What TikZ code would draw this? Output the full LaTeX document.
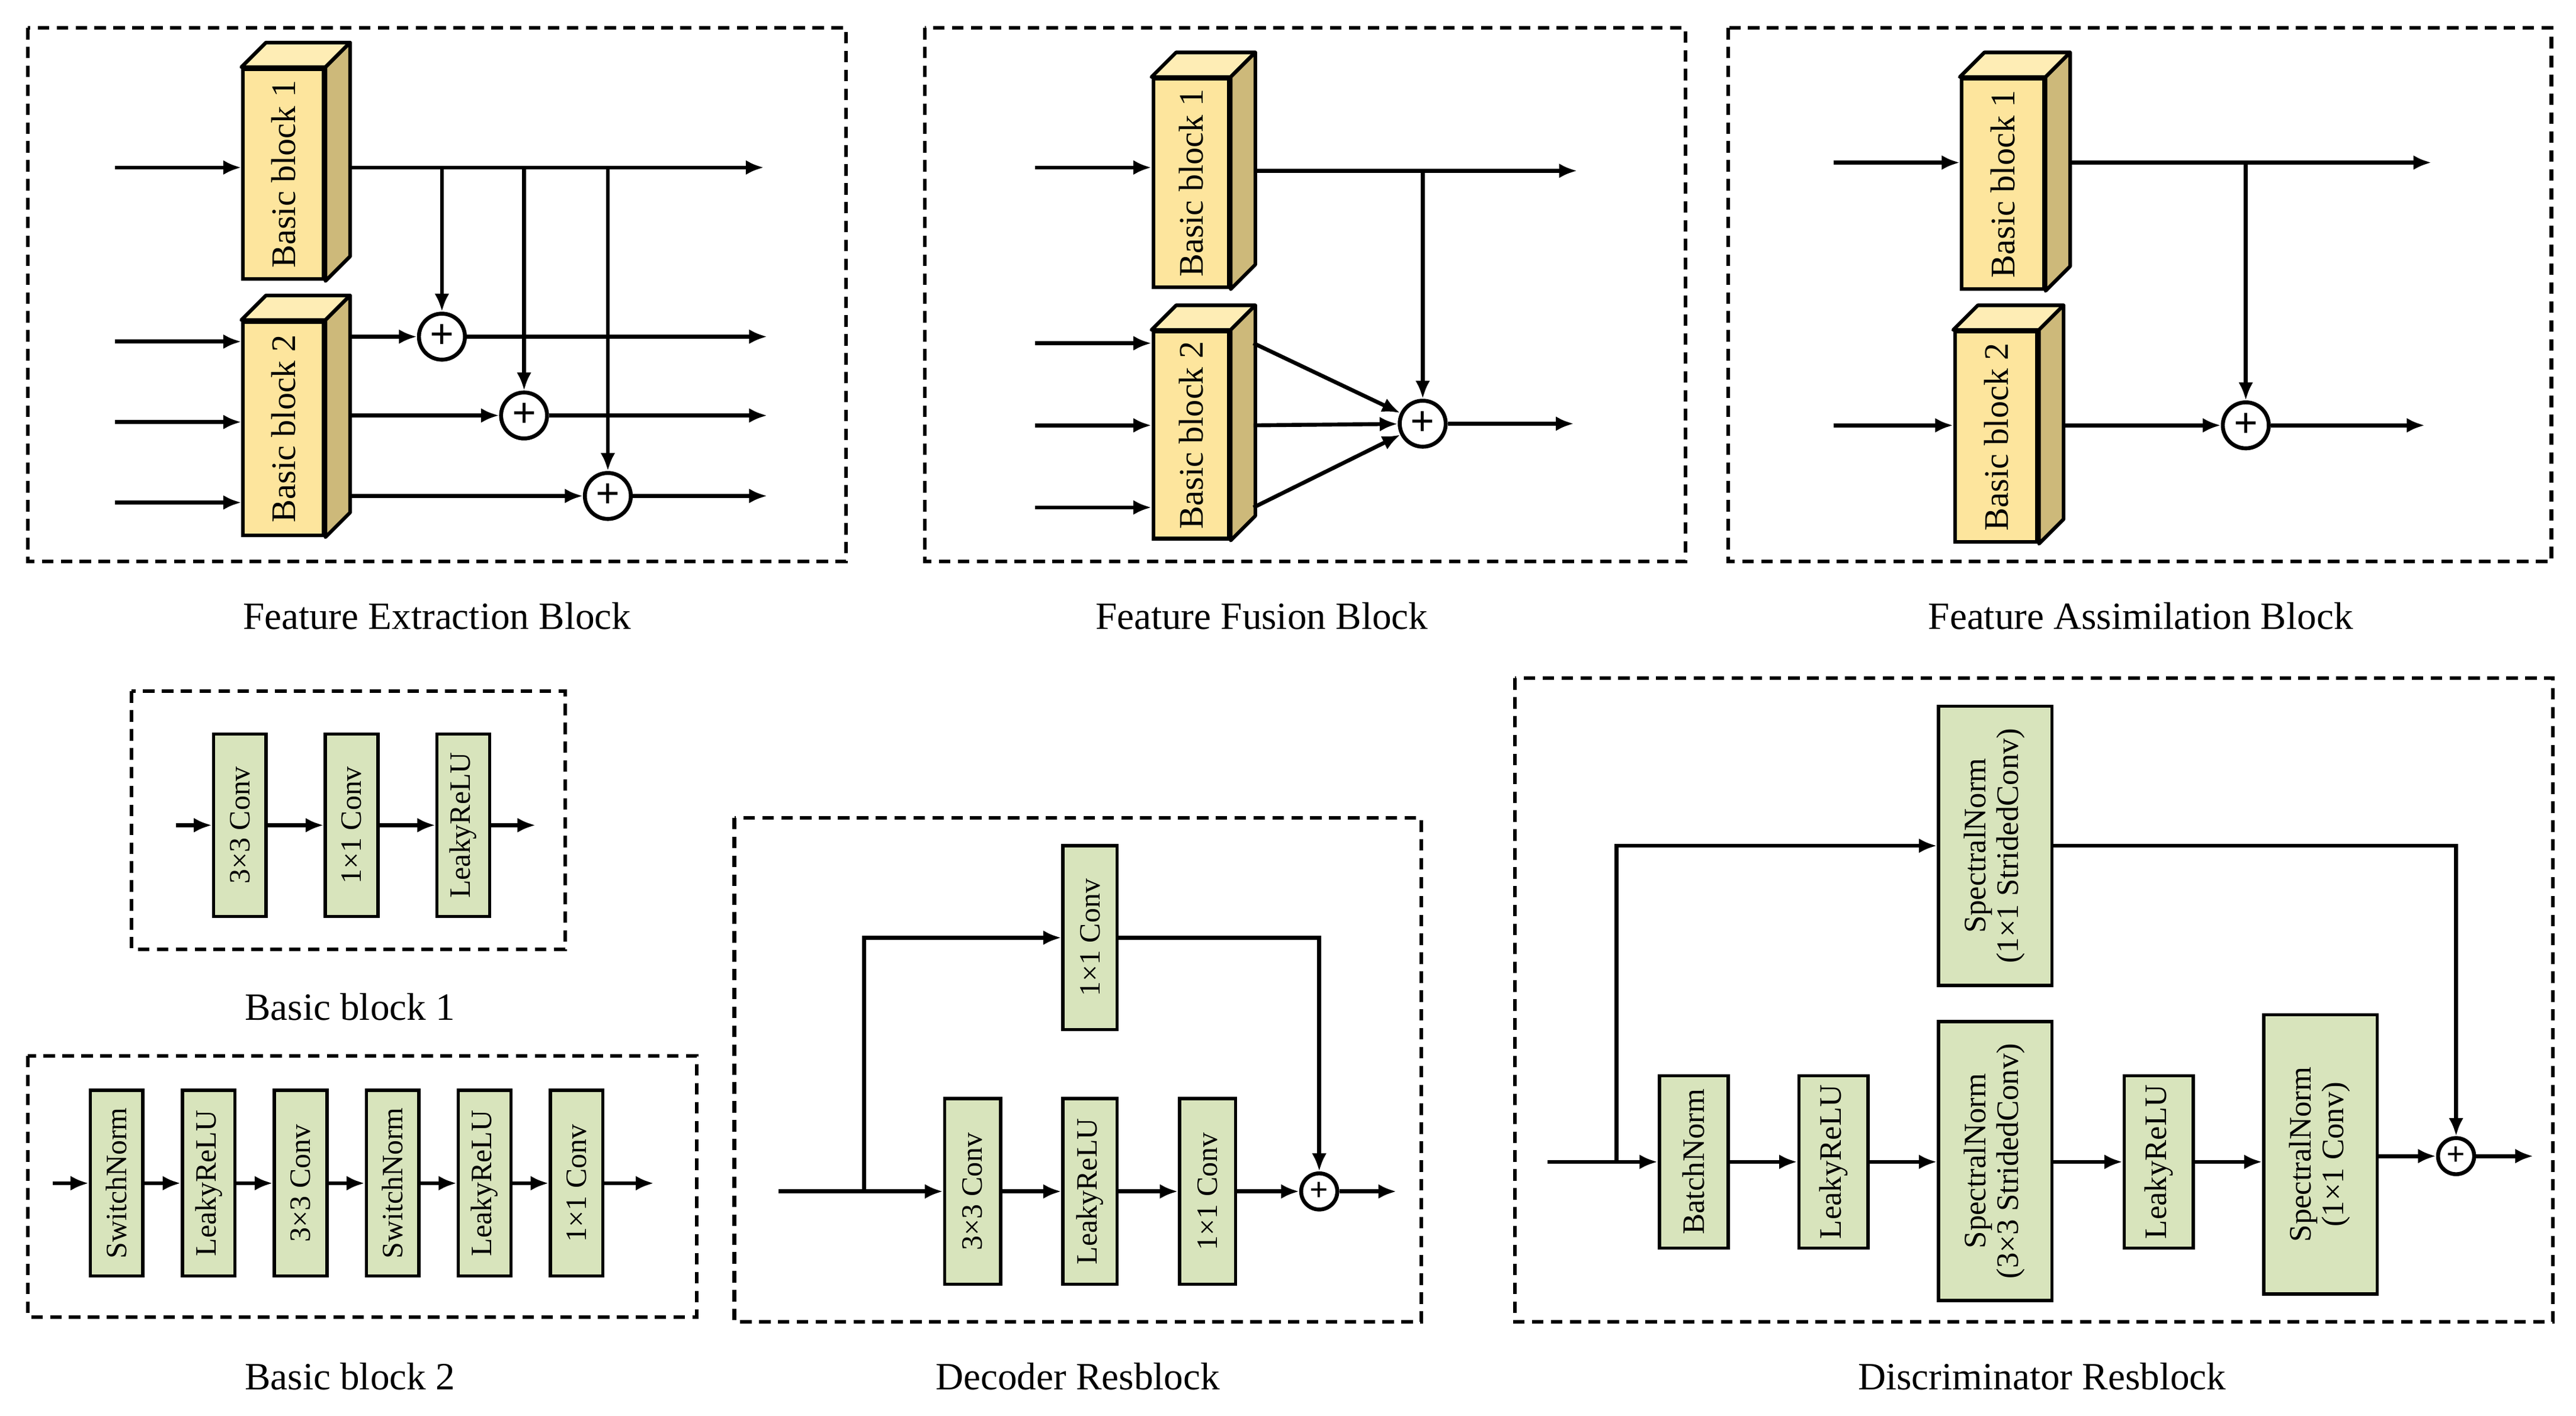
\documentclass[tikz,border=0pt]{standalone}
\usepackage{fontspec}
\setmainfont{Liberation Serif}
\usetikzlibrary{arrows.meta,calc}
\begin{document}
\begin{tikzpicture}[x=1pt,y=-1pt,
  line width=2.4pt,
  arr/.style={-{Latex[length=11pt,width=9pt]}},
  panel/.style={draw,dash pattern=on 7pt off 4.5pt,line width=2.2pt},
  captxt/.style={font=\fontsize{23.5}{26}\selectfont},
  bb/.style={draw,fill=bbfront,line width=2.2pt,inner sep=0pt,font=\fontsize{21}{23}\selectfont},
  gb/.style={draw,fill=gfill,line width=2pt,inner sep=0pt,font=\fontsize{18}{20}\selectfont},
  dgb/.style={gb,font=\fontsize{19}{20}\selectfont},
  sum/.style={draw,circle,fill=white,line width=2.4pt,minimum size=28pt,inner sep=0pt,font=\fontsize{26}{26}\selectfont\bfseries},
  ssum/.style={sum,minimum size=22pt,font=\fontsize{20}{20}\selectfont\bfseries}]
\definecolor{bbfront}{HTML}{FDE59D}
\definecolor{bbtop}{HTML}{FEEDB5}
\definecolor{bbside}{HTML}{CDB97A}
\definecolor{gfill}{HTML}{D8E4BC}
\newcommand{\threed}[1]{%
  \draw[line width=2.2pt,fill=bbtop,line join=round] (#1.north west) -- ++(15,-15) -- ($(#1.north east)+(15,-15)$) -- (#1.north east) -- cycle;
  \draw[line width=2.2pt,fill=bbside,line join=round] (#1.north east) -- ++(15,-15) -- ($(#1.south east)+(15,-15)$) -- (#1.south east) -- cycle;}
\useasboundingbox (0,0) rectangle (1568,862);
% ===== Feature Extraction =====
\draw[panel] (17,17) rectangle (515,342);
\node[captxt] (c1) at (266,375) {Feature Extraction Block};
\node[bb,minimum width=49pt,minimum height=128pt] (a1) at (172.5,106) {\rotatebox{90}{Basic block 1}};
\node[bb,minimum width=49pt,minimum height=130pt] (a2) at (172.5,261) {\rotatebox{90}{Basic block 2}};
\threed{a1}\threed{a2}
\coordinate (ai) at (70,102); \coordinate (ao) at (212,102); \coordinate (ae) at (465,102);
\draw[arr] (ai) -- (ai -| a1.west);
\draw[arr] (ao) -- (ae);
\node[sum] (s1) at (269,205) {+};
\node[sum] (s2) at (319,253) {+};
\node[sum] (s3) at (370,302) {+};
\foreach \s in {s1,s2,s3}{\draw[arr] (ao -| \s) -- (\s.north);}
\coordinate (ee) at (467,0);
\foreach \y/\s in {208/s1,257/s2,306/s3}{
  \coordinate (i\s) at (70,\y); \draw[arr] (i\s) -- (i\s -| a2.west);
  \draw[arr] ($(a2.east |- \s)+(15,0)$) -- (\s.west);
  \draw[arr] (\s.east) -- (ee |- \s);}
% ===== Feature Fusion =====
\draw[panel] (563,17) rectangle (1026,342);
\node[captxt] (c2) at (768,375) {Feature Fusion Block};
\node[bb,minimum width=46pt,minimum height=127pt] (f1) at (725,111.5) {\rotatebox{90}{Basic block 1}};
\node[bb,minimum width=46pt,minimum height=126pt] (f2) at (725,265) {\rotatebox{90}{Basic block 2}};
\threed{f1}\threed{f2}
\coordinate (fi) at (630,102); \coordinate (fo) at (763,104); \coordinate (fe) at (960,104);
\draw[arr] (fi) -- (fi -| f1.west);
\draw[arr] (fo) -- (fe);
\node[sum] (fs) at (866,258) {+};
\draw[arr] (fo -| fs) -- (fs.north);
\foreach \y in {209,259,309}{
  \coordinate (fin\y) at (630,\y); \draw[arr] (fin\y) -- (fin\y -| f2.west);
  \coordinate (fout\y) at (763,\y); \draw[arr] (fout\y) -- (fs);}
\coordinate (fse) at (958,258); \draw[arr] (fs.east) -- (fse);
% ===== Feature Assimilation =====
\draw[panel] (1052,17) rectangle (1553,342);
\node[captxt] (c3) at (1303,375) {Feature Assimilation Block};
\node[bb,minimum width=50pt,minimum height=128pt] (h1) at (1219,112) {\rotatebox{90}{Basic block 1}};
\node[bb,minimum width=50pt,minimum height=128pt] (h2) at (1215,266) {\rotatebox{90}{Basic block 2}};
\threed{h1}\threed{h2}
\coordinate (hi) at (1116,99); \coordinate (ho) at (1259,99); \coordinate (he) at (1480,99);
\draw[arr] (hi) -- (hi -| h1.west);
\draw[arr] (ho) -- (he);
\node[sum] (hs) at (1367,259) {+};
\draw[arr] (ho -| hs) -- (hs.north);
\coordinate (hi2) at (1116,259); \draw[arr] (hi2) -- (hi2 -| h2.west);
\coordinate (ho2) at (1255,259); \draw[arr] (ho2) -- (hs.west);
\coordinate (he2) at (1476,259); \draw[arr] (hs.east) -- (he2);
% ===== Basic block 1 =====
\draw[panel] (80,421) rectangle (344,578);
\node[captxt] (c4) at (213,613) {Basic block 1};
\node[gb,minimum width=32pt,minimum height=111pt] (p1) at (146,502.5) {\rotatebox{90}{3×3 Conv}};
\node[gb,minimum width=32pt,minimum height=111pt] (p2) at (214,502.5) {\rotatebox{90}{1×1 Conv}};
\node[gb,minimum width=32pt,minimum height=111pt] (p3) at (282,502.5) {\rotatebox{90}{LeakyReLU}};
\coordinate (pi) at (107,502.5); \coordinate (pe) at (326,502.5);
\draw[arr] (pi) -- (p1); \draw[arr] (p1) -- (p2); \draw[arr] (p2) -- (p3); \draw[arr] (p3) -- (pe);
% ===== Basic block 2 =====
\draw[panel] (17,643) rectangle (424,802);
\node[captxt] (c5) at (213,838) {Basic block 2};
\foreach \i/\x/\t in {1/71/SwitchNorm,2/127/LeakyReLU,3/183/3×3 Conv,4/239/SwitchNorm,5/295/LeakyReLU,6/351/1×1 Conv}{
  \node[gb,minimum width=32pt,minimum height=113pt] (q\i) at (\x,720.5) {\rotatebox{90}{\t}};}
\coordinate (qi) at (32,720.5); \coordinate (qe) at (398,720.5);
\draw[arr] (qi) -- (q1);
\foreach \a/\b in {1/2,2/3,3/4,4/5,5/6}{\draw[arr] (q\a) -- (q\b);}
\draw[arr] (q6) -- (qe);
% ===== Decoder Resblock =====
\draw[panel] (447,498) rectangle (865,805);
\node[captxt] (c6) at (656,838) {Decoder Resblock};
\node[gb,minimum width=33pt,minimum height=112pt] (d0) at (663.5,571) {\rotatebox{90}{1×1 Conv}};
\node[gb,minimum width=34pt,minimum height=113pt] (d1) at (592,725.5) {\rotatebox{90}{3×3 Conv}};
\node[gb,minimum width=33pt,minimum height=113pt] (d2) at (663.5,725.5) {\rotatebox{90}{LeakyReLU}};
\node[gb,minimum width=34pt,minimum height=113pt] (d3) at (735,725.5) {\rotatebox{90}{1×1 Conv}};
\node[ssum] (ds) at (803,725.5) {+};
\coordinate (di) at (474,725.5); \coordinate (db) at (526,725.5); \coordinate (de) at (850,725.5);
\draw[arr] (di) -- (d1); \draw[arr] (d1) -- (d2); \draw[arr] (d2) -- (d3); \draw[arr] (d3) -- (ds); \draw[arr] (ds) -- (de);
\draw[arr] (db) |- (d0.west);
\draw[arr] (d0.east) -| (ds.north);
% ===== Discriminator Resblock =====
\draw[panel] (922,413) rectangle (1554,805);
\node[captxt] (c7) at (1243,838) {Discriminator Resblock};
\node[dgb,minimum width=69pt,minimum height=170pt] (t0) at (1214.5,515) {\rotatebox{90}{\begin{tabular}{@{}c@{}}SpectralNorm\\(1×1 StridedConv)\end{tabular}}};
\node[dgb,minimum width=42pt,minimum height=105pt] (t1) at (1031,707.5) {\rotatebox{90}{BatchNorm}};
\node[dgb,minimum width=42pt,minimum height=105pt] (t2) at (1116,707.5) {\rotatebox{90}{LeakyReLU}};
\node[dgb,minimum width=69pt,minimum height=170pt] (t3) at (1214.5,707) {\rotatebox{90}{\begin{tabular}{@{}c@{}}SpectralNorm\\(3×3 StridedConv)\end{tabular}}};
\node[dgb,minimum width=42pt,minimum height=105pt] (t4) at (1314,707.5) {\rotatebox{90}{LeakyReLU}};
\node[dgb,minimum width=69pt,minimum height=170pt] (t5) at (1412.5,703) {\rotatebox{90}{\begin{tabular}{@{}c@{}}SpectralNorm\\(1×1 Conv)\end{tabular}}};
\node[ssum] (ts) at (1495,704) {+};
\coordinate (ti) at (942,707.5); \coordinate (tb) at (984,707.5); \coordinate (te) at (1542,704);
\draw[arr] (ti) -- (t1);
\draw[arr] (t1) -- (t2); \draw[arr] (t2) -- (t2 -| t3.west); \draw[arr] (t3.east |- t2) -- (t4); \draw[arr] (t4) -- (t4 -| t5.west);
\draw[arr] (t5.east |- ts) -- (ts); \draw[arr] (ts) -- (te);
\draw[arr] (tb) |- (t0.west);
\draw[arr] (t0.east) -| (ts.north);
\end{tikzpicture}
\end{document}
